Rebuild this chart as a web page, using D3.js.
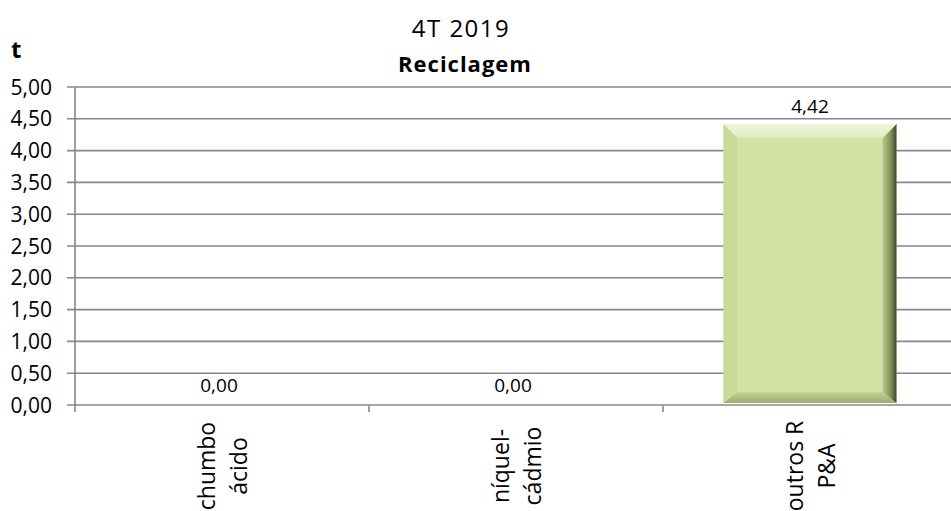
<!DOCTYPE html>
<html>
<head>
<meta charset="utf-8">
<script src="https://cdn.jsdelivr.net/npm/d3@7"></script>
<style>
  html, body { margin: 0; padding: 0; background: #fff; }
  svg { display: block; }
  text { font-family: "Open Sans", sans-serif; fill: #000; }
</style>
</head>
<body>
<svg id="chart" width="951" height="511"></svg>
<script>
// ---- data ----
const categories = ["chumbo ácido", "níquel-cádmio", "outros R P&A"];
const categoryLines = [["chumbo", "ácido"], ["níquel-", "cádmio"], ["outros R", "P&A"]];
const values = [0.00, 0.00, 4.42];
const yTicks = [0, 0.5, 1, 1.5, 2, 2.5, 3, 3.5, 4, 4.5, 5];
const titleLine1 = "4T 2019";
const titleLine2 = "Reciclagem";
const yUnit = "t";

(function () {
const fmt = v => v.toFixed(2).replace(".", ",");

const svg = d3.select("#chart");
const pl = 75, pr = 957, pt = 87, pb = 405;

const x = d3.scaleBand().domain(categories).range([pl, pr]).padding(0);
const y = d3.scaleLinear().domain([0, 5]).range([pb, pt]);
const barW = x.bandwidth() / 1.7;

const grid = "#878787";

// gridlines
svg.append("g").selectAll("line").data(yTicks).join("line")
  .attr("x1", pl - 8).attr("x2", 951)
  .attr("y1", d => y(d)).attr("y2", d => y(d))
  .attr("stroke", grid).attr("stroke-width", 1.6);

// y axis
svg.append("line").attr("x1", pl).attr("x2", pl)
  .attr("y1", pt).attr("y2", pb + 7)
  .attr("stroke", grid).attr("stroke-width", 1.6);

// y tick labels
svg.append("g").selectAll("text").data(yTicks).join("text")
  .attr("x", 52).attr("y", d => y(d) + 7.5)
  .attr("text-anchor", "end")
  .attr("font-size", 21)
  .text(d => fmt(d));

// x category boundary ticks
const bounds = categories.map(c => x(c) + x.bandwidth()).slice(0, -1);
svg.append("g").selectAll("line").data(bounds).join("line")
  .attr("x1", d => d).attr("x2", d => d)
  .attr("y1", pb).attr("y2", pb + 7)
  .attr("stroke", grid).attr("stroke-width", 1.6);

// gradients
const defs = svg.append("defs");
const gR = defs.append("linearGradient").attr("id", "gR").attr("x1", "0").attr("x2", "1").attr("y1", "0").attr("y2", "0");
gR.append("stop").attr("offset", "0").attr("stop-color", "#b9ca8b");
gR.append("stop").attr("offset", "0.6").attr("stop-color", "#7f8f58");
gR.append("stop").attr("offset", "1").attr("stop-color", "#3c4628");
const gT = defs.append("linearGradient").attr("id", "gT").attr("x1", "0").attr("x2", "0").attr("y1", "0").attr("y2", "1");
gT.append("stop").attr("offset", "0").attr("stop-color", "#f0f6da");
gT.append("stop").attr("offset", "1").attr("stop-color", "#e0ebbb");
const gB = defs.append("linearGradient").attr("id", "gB").attr("x1", "0").attr("x2", "0").attr("y1", "0").attr("y2", "1");
gB.append("stop").attr("offset", "0").attr("stop-color", "#c3d394");
gB.append("stop").attr("offset", "1").attr("stop-color", "#9aab6c");

// bars
const bars = svg.append("g").selectAll("g").data(values.map((v, i) => ({ v, c: categories[i] })))
  .join("g").filter(d => d.v > 0);
bars.each(function (d) {
  const g = d3.select(this);
  const x0 = x(d.c) + (x.bandwidth() - barW) / 2, x1 = x0 + barW;
  const y0 = y(d.v), y1 = y(0) - 2;
  const b = 14, bb = 11;
  g.append("rect").attr("x", x0).attr("y", y0).attr("width", barW).attr("height", y1 - y0).attr("fill", "#d1e2a4");
  const poly = (pts, fill) => g.append("polygon").attr("points", pts.map(p => p.join(",")).join(" ")).attr("fill", fill);
  poly([[x0, y0], [x0 + b, y0 + b], [x0 + b, y1 - bb], [x0, y1]], "#c9da99");
  poly([[x0, y1], [x1, y1], [x1 - b, y1 - bb], [x0 + b, y1 - bb]], "url(#gB)");
  poly([[x1, y0], [x1, y1], [x1 - b, y1 - bb], [x1 - b, y0 + b]], "url(#gR)");
  poly([[x0, y0], [x1, y0], [x1 - b, y0 + b], [x0 + b, y0 + b]], "url(#gT)");
});

// value labels
svg.append("g").selectAll("text").data(values).join("text")
  .attr("x", (d, i) => x(categories[i]) + x.bandwidth() / 2 - (d > 0 ? 0 : 3))
  .attr("y", d => y(d) - (d > 0 ? 11 : 13))
  .attr("text-anchor", "middle")
  .attr("font-size", 19)
  .text(d => fmt(d));

// x category labels (rotated)
const xl = svg.append("g").selectAll("g").data(categories).join("g")
  .attr("transform", c => `translate(${x(c) + x.bandwidth() / 2},466) rotate(-90)`);
xl.each(function (c, i) {
  const g = d3.select(this);
  categoryLines[i].forEach((ln, j) => {
    g.append("text").attr("x", 0).attr("y", j === 0 ? -7 : 25)
      .attr("text-anchor", "middle").attr("font-size", 23).text(ln);
  });
});

// titles
svg.append("text").attr("x", 461).attr("y", 37).attr("text-anchor", "middle")
  .attr("font-size", 24).attr("letter-spacing", 1.5).text(titleLine1);
svg.append("text").attr("x", 465).attr("y", 72).attr("text-anchor", "middle")
  .attr("font-size", 22).attr("font-weight", "bold").attr("letter-spacing", 1).text(titleLine2);
svg.append("text").attr("x", 11).attr("y", 58)
  .attr("font-size", 24).attr("font-weight", "bold").text(yUnit);
})();
</script>
</body>
</html>
